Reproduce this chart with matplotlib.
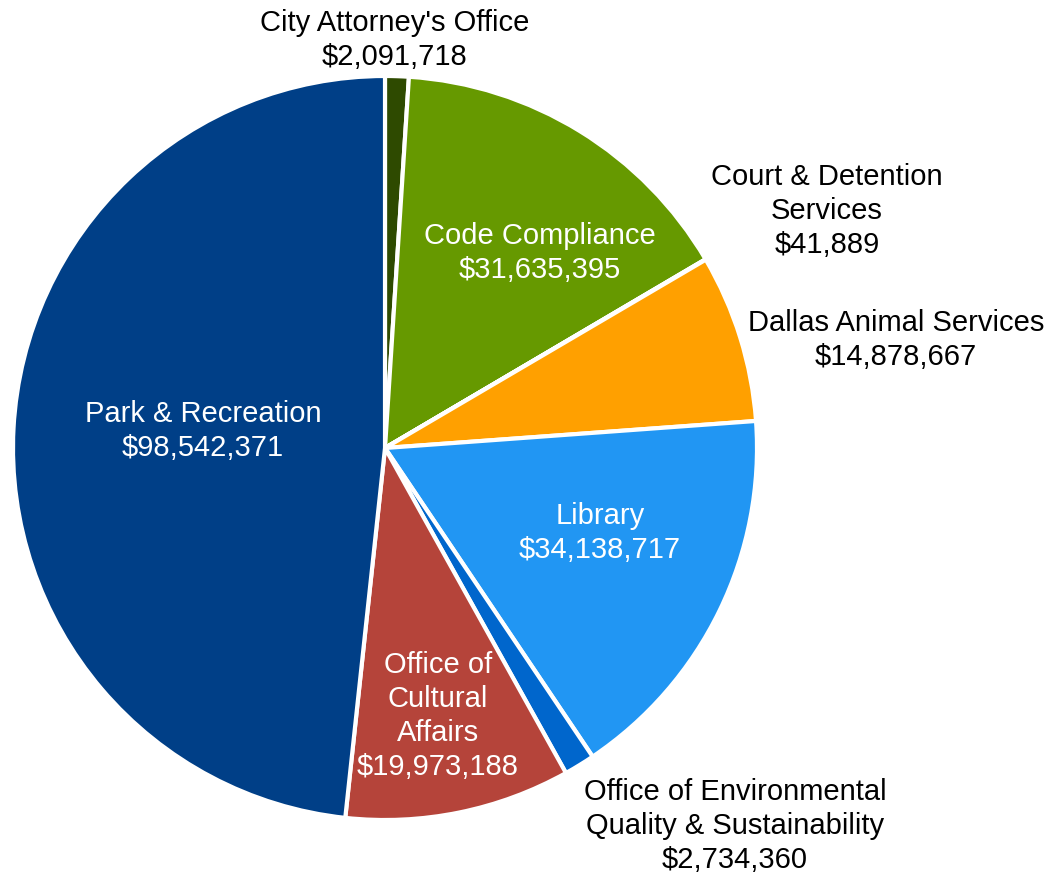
import matplotlib
matplotlib.use("Agg")
import matplotlib.pyplot as plt

plt.rcParams['font.family'] = ['Liberation Sans', 'DejaVu Sans']

departments = ["City Attorney's Office", "Code Compliance", "Court & Detention\nServices",
               "Dallas Animal Services", "Library",
               "Office of Environmental\nQuality & Sustainability",
               "Office of\nCultural\nAffairs", "Park & Recreation"]
amounts = [2091718, 31635395, 41889, 14878667, 34138717, 2734360, 19973188, 98542371]
colors = ["#2e4a00", "#669900", "#7f7f7f", "#ffa000", "#2196f3", "#0066cc", "#b5443a", "#003f87"]

# label placement in pixel coords (x, y from top), text colour
label_pos = [(395, 40, "black"), (540, 253, "white"), (827, 211, "black"), (896, 340, "black"),
             (600, 533, "white"), (735, 826, "black"), (438, 716, "white"), (203, 431, "white")]

W, H = 1053, 875
fig = plt.figure(figsize=(W / 100, H / 100), dpi=100)
ax = fig.add_axes([0, 0, 1, 1])
ax.set_xlim(0, W)
ax.set_ylim(0, H)
ax.axis("off")

ax.pie(amounts, colors=colors, startangle=90, counterclock=False,
       center=(385, H - 448), radius=372,
       wedgeprops=dict(edgecolor="white", linewidth=3))
ax.set_xlim(0, W)
ax.set_ylim(0, H)
ax.set_aspect("equal")

for name, amt, (x, y, c) in zip(departments, amounts, label_pos):
    ax.text(x, H - y, "{}\n${:,}".format(name, amt), color=c, fontsize=21,
            ha="center", va="center", linespacing=1.27)

fig.savefig("out.png", dpi=100)
